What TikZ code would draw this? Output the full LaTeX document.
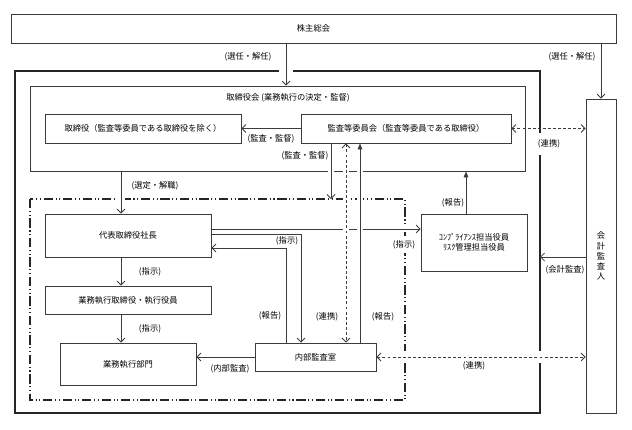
\documentclass[tikz,border=0pt]{standalone}
\usepackage{fontspec}
\setmainfont{Noto Sans CJK JP}
\usetikzlibrary{arrows.meta,positioning,calc}
\definecolor{edge}{RGB}{60,60,60}
\tikzset{
  box/.style={draw=edge,line width=0.6pt,inner sep=0pt,align=center,font=\fontsize{6.2}{7.6}\selectfont},
  lbl/.style={inner sep=1pt,font=\fontsize{6.2}{7.6}\selectfont},
  conn/.style={draw=edge,line width=0.6pt,-{Straight Barb[length=3pt,width=6pt]}},
  report/.style={draw=edge,line width=0.6pt,-{Triangle[length=4.5pt,width=3.5pt]}},
  link/.style={draw=edge,line width=0.6pt,dash pattern=on 2.2pt off 1.6pt,
    {Straight Barb[length=3pt,width=6pt]}-{Straight Barb[length=3pt,width=6pt]}},
  halo/.style={preaction={draw=white,line width=#1,solid,arrows=-,shorten <=3pt,shorten >=3pt}},
  halo/.default=4pt,
  frame/.style={draw=black!85,line width=1.4pt},
  ddot/.style={draw=black!85,line width=1.1pt,dash pattern=on 7pt off 2pt on 0.8pt off 2pt on 0.8pt off 2pt}
}
\begin{document}
\begin{tikzpicture}[x=0.75pt,y=-0.75pt]
    \useasboundingbox (0,0) rectangle (632,429);

    % boxes
    \node[box,minimum width=453.75pt,minimum height=21.75pt] (kabu) at (313.5,28.5) {株主総会};
    \node[box,minimum width=371.25pt,minimum height=63.75pt] (torikai) at (277.5,128.5) {};
    \node[lbl] (torikaiTitle) at (288,98) {取締役会 (業務執行の決定・監督)};
    \node[box,minimum width=147pt,minimum height=21.75pt] (tori) at (143,128.5) {取締役（監査等委員である取締役を除く）};
    \node[box,minimum width=157.5pt,minimum height=21.75pt] (kansa) at (406,128.5) {監査等委員会（監査等委員である取締役）};
    \node[box,minimum width=124.5pt,minimum height=32.25pt] (daihyo) at (128,235.5) {代表取締役社長};
    \node[box,minimum width=124.5pt,minimum height=21pt] (gyomu) at (128,300) {業務執行取締役・執行役員};
    \node[box,minimum width=102pt,minimum height=31.5pt] (bumon) at (128,364) {業務執行部門};
    \node[box,minimum width=90.75pt,minimum height=21pt] (naibu) at (315.5,357) {内部監査室};
    \node[box,minimum width=79.5pt,minimum height=42.75pt] (comp) at (474,242.5) {ｺﾝﾌﾟﾗｲｱﾝｽ担当役員\\ﾘｽｸ管理担当役員};
    \node[box,minimum width=22.5pt,minimum height=235.5pt] (kaikei) at (601,256) {会\\計\\監\\査\\人};

    % frames
    \draw[frame] (15,71) rectangle (540,413);
    \draw[ddot] (30,199) rectangle (405,400);
    \coordinate (outerR) at (540,0);
    \coordinate (ddTop) at (0,199);

    % column and row helpers
    \coordinate (c286) at (286,0);
    \coordinate (c121) at (121,0);
    \coordinate (c331) at (331,0);
    \coordinate (c301) at (301,0);
    \coordinate (c346) at (346,0);
    \coordinate (c360) at (360,0);
    \coordinate (c466) at (466,0);
    \coordinate (r229) at (0,229);
    \coordinate (r234) at (0,234);
    \coordinate (r248) at (0,248);
    \coordinate (r257) at (0,257);

    % connectors
    \draw[conn,halo=10pt] (kabu.south -| c286) -- (torikai.north -| c286);
    \draw[conn] (kabu.south -| kaikei.north) -- (kaikei.north);
    \draw[conn] (kansa.west) -- (tori.east);
    \draw[conn,halo=6pt] (torikai.south -| c121) -- (daihyo.north -| c121);
    \draw[conn] (daihyo.south -| c121) -- (gyomu.north -| c121);
    \draw[conn] (gyomu.south -| c121) -- (bumon.north -| c121);
    \draw[conn,halo] (daihyo.east |- r229) -- (comp.west |- r229);
    \draw[conn] (daihyo.east |- r234) -- (c301 |- r234) -- (naibu.north -| c301);
    \draw[conn] (naibu.north -| c286) -- (c286 |- r248) -- (daihyo.east |- r248);
    \draw[conn,halo] (kansa.south -| c331) -- (c331 |- ddTop);
    \draw[link,halo] (kansa.south -| c346) -- (naibu.north -| c346);
    \draw[report,halo] (naibu.north -| c360) -- (kansa.south -| c360);
    \draw[report] (comp.north -| c466) -- (torikai.south -| c466);
    \draw[link] (kansa.east) -- (kansa.east -| kaikei.west);
    \draw[conn] (kaikei.west |- r257) -- (outerR |- r257);
    \draw[conn] (naibu.west) -- (naibu.west -| bumon.east);
    \draw[link,halo=9pt] (naibu.east) -- (naibu.east -| kaikei.west);

    % labels
    \node[lbl] (lbElect1) at (248,57) {(選任・解任)};
    \node[lbl] (lbElect2) at (572,57) {(選任・解任)};
    \node[lbl] (lbAudit1) at (271,139) {(監査・監督)};
    \node[lbl] (lbAudit2) at (305,156) {(監査・監督)};
    \node[lbl] (lbSelect) at (155,186) {(選定・解職)};
    \node[lbl,fill=white,inner ysep=5pt] (lbLink1) at (549,144) {(連携)};
    \node[lbl] (lbReport1) at (453,203) {(報告)};
    \node[lbl] (lbOrder1) at (287,241) {(指示)};
    \node[lbl,fill=white,inner ysep=3pt] (lbOrder2) at (404,245) {(指示)};
    \node[lbl] (lbAcct) at (565,270) {(会計監査)};
    \node[lbl] (lbOrder3) at (150,272) {(指示)};
    \node[lbl] (lbReport2) at (270,316) {(報告)};
    \node[lbl] (lbLink2) at (327,317) {(連携)};
    \node[lbl] (lbReport3) at (383,317) {(報告)};
    \node[lbl] (lbOrder4) at (150,329) {(指示)};
    \node[lbl] (lbLink3) at (474,366) {(連携)};
    \node[lbl] (lbInternal) at (230,369) {(内部監査)};
\end{tikzpicture}
\end{document}
